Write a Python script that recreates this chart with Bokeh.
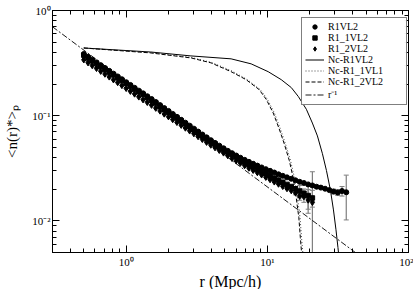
from bokeh.plotting import figure
from bokeh.models import (LogAxis, FixedTicker, Whisker, ColumnDataSource, Legend,
                          LegendItem, TeeHead, Range1d, Title)
from bokeh.embed import file_html
from bokeh.resources import INLINE

# ---------------- data ----------------
r_grid = [0.500, 0.536, 0.574, 0.615, 0.659, 0.706, 0.757, 0.811, 0.869, 0.931,
          0.998, 1.069, 1.145, 1.227, 1.315, 1.409, 1.510, 1.618, 1.734, 1.858,
          1.991, 2.133, 2.285, 2.449, 2.624, 2.812, 3.013, 3.228, 3.459, 3.707,
          3.972, 4.256, 4.560, 4.886, 5.236, 5.610, 6.011, 6.441, 6.902, 7.396,
          7.924, 8.491, 9.099, 9.749, 10.45, 11.19, 11.99, 12.85, 13.77, 14.76,
          15.81, 16.94, 18.15, 19.45, 20.84, 22.33, 23.93, 25.64, 27.48, 29.44,
          31.55, 33.80, 36.22]

n_R1VL2 = [0.386, 0.363, 0.341, 0.321, 0.302, 0.284, 0.267, 0.251, 0.236, 0.222,
           0.208, 0.196, 0.184, 0.173, 0.163, 0.153, 0.144, 0.135, 0.126, 0.118,
           0.111, 0.104, 0.0975, 0.0914, 0.0857, 0.0804, 0.0753, 0.0706, 0.0662, 0.0622,
           0.0585, 0.0551, 0.0519, 0.0490, 0.0463, 0.0440, 0.0418, 0.0398, 0.0380, 0.0364,
           0.0349, 0.0335, 0.0322, 0.0310, 0.0299, 0.0288, 0.0277, 0.0268, 0.0259, 0.0251,
           0.0243, 0.0235, 0.0229, 0.0222, 0.0217, 0.0211, 0.0207, 0.0202, 0.0196, 0.0190,
           0.0186, 0.0192, 0.0187]
e_R1VL2 = [0.0] * 59 + [0.0010, 0.0012, 0.0020, 0.0085]

n_R1_1VL2 = [0.376, 0.354, 0.332, 0.313, 0.294, 0.277, 0.260, 0.245, 0.230, 0.216,
             0.203, 0.191, 0.179, 0.169, 0.159, 0.149, 0.140, 0.132, 0.123, 0.115,
             0.108, 0.101, 0.0951, 0.0891, 0.0836, 0.0784, 0.0734, 0.0688, 0.0645, 0.0606,
             0.0570, 0.0537, 0.0506, 0.0478, 0.0451, 0.0429, 0.0406, 0.0382, 0.0361, 0.0343,
             0.0326, 0.0310, 0.0295, 0.0281, 0.0268, 0.0255, 0.0244, 0.0233, 0.0222, 0.0212,
             0.0202, 0.0192, 0.0183, 0.0174, 0.0165]
e_R1_1VL2 = [0.0] * 50 + [0.0010, 0.0025, 0.0018, 0.0045, 0.0030]

n_R1_2VL2 = [0.340, 0.319, 0.300, 0.282, 0.265, 0.249, 0.234, 0.220, 0.207, 0.194,
             0.182, 0.171, 0.161, 0.151, 0.142, 0.134, 0.126, 0.118, 0.111, 0.104,
             0.0979, 0.0920, 0.0865, 0.0813, 0.0764, 0.0718, 0.0675, 0.0634, 0.0596, 0.0560,
             0.0526, 0.0497, 0.0469, 0.0443, 0.0418, 0.0394, 0.0373, 0.0354, 0.0336, 0.0318,
             0.0303, 0.0288, 0.0274, 0.0260, 0.0247, 0.0235, 0.0224, 0.0213, 0.0203, 0.0194,
             0.0185, 0.0172, 0.0170, 0.0158, 0.0150]
e_R1_2VL2 = [0.0] * 50 + [0.0008, 0.0015, 0.0020, 0.0040, 0.0143]

r_Nc_R1VL2 = [0.5, 1.49, 2.87, 5.53, 7.67, 10.13, 12.54, 14.77, 16.57, 18.89,
              20.84, 22.62, 24.55, 26.21, 27.99, 29.39, 30.62, 31.63, 32.43, 33.1]
n_Nc_R1VL2 = [0.440, 0.403, 0.370, 0.347, 0.311, 0.262, 0.220, 0.185, 0.152, 0.115,
              0.0851, 0.0642, 0.0435, 0.0301, 0.0195, 0.0127, 0.00823, 0.00557, 0.00403, 0.001]

r_Nc_R1_1VL1 = [0.5, 1.49, 2.88, 4.02, 5.64, 7.21, 8.91, 10.01, 11.22, 12.37,
                13.43, 14.59, 15.57, 16.35, 17.04, 17.46, 17.89, 18.34]
n_Nc_R1_1VL1 = [0.440, 0.398, 0.358, 0.321, 0.265, 0.220, 0.177, 0.143, 0.106, 0.0747,
                0.0540, 0.0374, 0.0254, 0.0164, 0.0107, 0.00692, 0.00469, 0.00235]

r_Nc_R1_2VL2 = [0.5, 1.49, 2.87, 3.98, 5.53, 7.07, 8.74, 9.81, 11.00, 12.13,
                13.17, 14.30, 15.26, 16.03, 16.71, 17.12, 17.54, 17.98]
n_Nc_R1_2VL2 = [0.440, 0.395, 0.354, 0.318, 0.262, 0.220, 0.177, 0.143, 0.106, 0.0747,
                0.0540, 0.0374, 0.0254, 0.0164, 0.0107, 0.00692, 0.00469, 0.00235]

r_pow = [0.3, 100.0]
n_pow = [0.7, 0.0021]

x_ticks = [1, 10, 100]
x_tick_labels = ["10\u2070", "10\u00b9", "10\u00b2"]
y_ticks = [0.01, 0.1, 1]
y_tick_labels = ["10\u207b\u00b2", "10\u207b\u00b9", "10\u2070"]

SERIF = "Liberation Serif"

# ---------------- figure ----------------
p = figure(width=413, height=289, x_axis_type="log", y_axis_type="log",
           x_range=Range1d(0.3, 100), y_range=Range1d(0.005, 1),
           output_backend="svg", toolbar_location=None,
           min_border_left=52, min_border_right=5, min_border_top=10, min_border_bottom=20)
p.xgrid.visible = False
p.ygrid.visible = False
p.outline_line_color = "black"
p.background_fill_color = "white"

x_minor = [m * d for d in (0.1, 1, 10) for m in range(2, 10) if 0.3 <= m * d <= 100]
y_minor = [m * d for d in (0.001, 0.01, 0.1) for m in range(2, 10) if 0.005 <= m * d <= 1]


def style(ax, labels=True):
    ax.axis_line_color = "black"
    ax.major_tick_line_color = "black"
    ax.minor_tick_line_color = "black"
    ax.major_tick_in = 7
    ax.major_tick_out = 0
    ax.minor_tick_in = 4
    ax.minor_tick_out = 0
    ax.major_label_text_font = SERIF
    if labels:
        ax.major_label_text_font_size = "11px"
        ax.major_label_text_color = "black"
        ax.major_label_standoff = 2
    else:
        ax.major_label_text_font_size = "1px"
        ax.major_label_text_color = None
        ax.major_label_standoff = 0


p.xaxis.ticker = FixedTicker(ticks=x_ticks, minor_ticks=x_minor)
p.yaxis.ticker = FixedTicker(ticks=y_ticks, minor_ticks=y_minor)
p.xaxis.major_label_overrides = dict(zip(x_ticks, x_tick_labels))
p.yaxis.major_label_overrides = dict(zip(y_ticks, y_tick_labels))
style(p.xaxis[0])
style(p.yaxis[0])
p.xaxis.major_label_standoff = 3

p.yaxis.axis_label = "<n(r)*>\u209a"
p.yaxis.axis_label_text_font = SERIF
p.yaxis.axis_label_text_font_style = "normal"
p.yaxis.axis_label_text_font_size = "15px"
p.yaxis.axis_label_text_color = "black"
p.yaxis.axis_label_standoff = 9

top = LogAxis(ticker=FixedTicker(ticks=x_ticks, minor_ticks=x_minor))
right = LogAxis(ticker=FixedTicker(ticks=y_ticks, minor_ticks=y_minor))
style(top, False)
style(right, False)
p.add_layout(top, "above")
p.add_layout(right, "right")

# x-axis title, placed below the axis in its own panel
p.add_layout(Title(text="r (Mpc/h)", align="center", text_font=SERIF,
                   text_font_size="16px", text_font_style="normal", text_color="black",
                   standoff=0, vertical_align="bottom"), "below")

# theory curves
l1 = p.line(r_Nc_R1VL2, n_Nc_R1VL2, line_color="black", line_width=1)
l2 = p.line(r_Nc_R1_1VL1, n_Nc_R1_1VL1, line_color="#444444", line_width=1, line_dash="1 2")
l3 = p.line(r_Nc_R1_2VL2, n_Nc_R1_2VL2, line_color="black", line_width=1, line_dash="4 2")
l4 = p.line(r_pow, n_pow, line_color="black", line_width=0.9, line_dash="6 2 2 2")


def add_err(r, n, e):
    base, up, lo = [], [], []
    for ri, ni, ei in zip(r, n, e):
        if ei > 0:
            base.append(ri)
            up.append(ni + ei)
            lo.append(max(ni - ei, 1e-4))
    src = ColumnDataSource(dict(base=base, upper=up, lower=lo))
    w = Whisker(source=src, base="base", upper="upper", lower="lower", dimension="height",
                line_color="#7f7f7f", line_width=1.2,
                upper_head=TeeHead(size=5, line_color="#7f7f7f", line_width=1),
                lower_head=TeeHead(size=5, line_color="#7f7f7f", line_width=1))
    p.add_layout(w)


add_err(r_grid, n_R1VL2, e_R1VL2)
add_err(r_grid[:len(n_R1_1VL2)], n_R1_1VL2, e_R1_1VL2)
add_err(r_grid[:len(n_R1_2VL2)], n_R1_2VL2, e_R1_2VL2)

s1 = p.scatter(r_grid, n_R1VL2, marker="circle", size=5, color="black")
s2 = p.scatter(r_grid[:len(n_R1_1VL2)], n_R1_1VL2, marker="square", size=4.5, color="black")
s3 = p.scatter(r_grid[:len(n_R1_2VL2)], n_R1_2VL2, marker="diamond", size=6.5, color="black")

legend = Legend(items=[
    LegendItem(label="R1VL2", renderers=[s1]),
    LegendItem(label="R1_1VL2", renderers=[s2]),
    LegendItem(label="R1_2VL2", renderers=[s3]),
    LegendItem(label="Nc-R1VL2", renderers=[l1]),
    LegendItem(label="Nc-R1_1VL1", renderers=[l2]),
    LegendItem(label="Nc-R1_2VL2", renderers=[l3]),
    LegendItem(label="r\u207b\u00b9", renderers=[l4]),
], location=(249, 147))
legend.border_line_color = "black"
legend.border_line_width = 1
legend.label_text_font = SERIF
legend.label_text_font_size = "10px"
legend.label_text_color = "black"
legend.glyph_width = 19
legend.glyph_height = 11
legend.label_height = 11
legend.label_width = 75
legend.spacing = 0
legend.padding = 3
legend.margin = 0
legend.label_standoff = 4
p.add_layout(legend)

open("out.html", "w").write(file_html(p, INLINE))
